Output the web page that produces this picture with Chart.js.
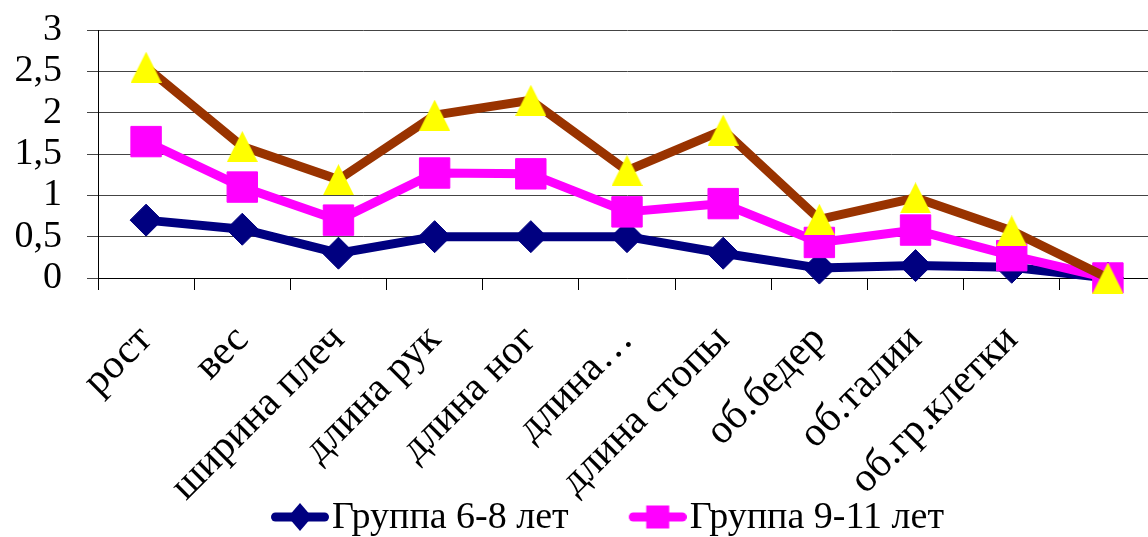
<!DOCTYPE html>
<html>
<head>
<meta charset="utf-8">
<script src="https://cdn.jsdelivr.net/npm/chart.js@4.4.1/dist/chart.umd.min.js"></script>
<style>
  html, body { margin: 0; padding: 0; overflow: hidden; background: #ffffff; }
  canvas { display: block; }
</style>
</head>
<body>
<canvas id="chart" width="1160" height="547"></canvas>
<script>
// Body measurements by group (differences, units on the y axis)
const categories = ['рост', 'вес', 'ширина плеч', 'длина рук', 'длина ног', 'длина…',
                    'длина стопы', 'об.бедер', 'об.талии', 'об.гр.клетки', ''];
const group6to8  = [0.70, 0.59, 0.30, 0.50, 0.50, 0.50, 0.30, 0.12, 0.15, 0.13, 0];
const group9to11 = [1.65, 1.10, 0.70, 1.27, 1.26, 0.80, 0.90, 0.43, 0.58, 0.27, 0];
const group3     = [2.55, 1.59, 1.19, 1.97, 2.15, 1.30, 1.79, 0.71, 0.97, 0.57, 0];
const seriesNames = ['Группа 6-8 лет', 'Группа 9-11 лет', 'Группа 3'];
const yMin = 0, yMax = 3, yStep = 0.5;

const FONT = '"Liberation Serif", "Times New Roman", serif';
const NAVY = '#000080', MAGENTA = '#FF00FF', BROWN = '#993300', YELLOW = '#FFFF00';

// Layout constants (pixels)
const CANVAS_H = 547, PLOT_TOP = 30, PLOT_BOTTOM = 278;
const PAD_LEFT = 9, Y_AXIS_RIGHT = 98;
const LEG_FONT = 38, LEG_PAD = 10;
const LEGEND_H = LEG_FONT + LEG_PAD + 10;

// Isosceles triangle marker (as wide as it is tall)
function triangleMarker(size, fill) {
  const c = document.createElement('canvas');
  c.width = size; c.height = size;
  const g = c.getContext('2d');
  g.fillStyle = fill;
  g.beginPath();
  g.moveTo(size / 2, 0);
  g.lineTo(size, size);
  g.lineTo(0, size);
  g.closePath();
  g.fill();
  return c;
}

// Legend symbol: a short thick line with the series marker in its middle
const LEG_B = 92;                 // box width reserved for the symbol
const LEG_W = LEG_B + 32;         // symbol canvas width
function legendSymbol(color, kind) {
  const c = document.createElement('canvas');
  c.width = LEG_W; c.height = 32;
  const g = c.getContext('2d');
  const x0 = LEG_B - 26, x1 = LEG_W, cy = 15;
  g.strokeStyle = color; g.fillStyle = color;
  g.lineWidth = 9; g.lineCap = 'round';
  g.beginPath(); g.moveTo(x0 + 4.5, cy); g.lineTo(x1 - 4.5, cy); g.stroke();
  const mx = (x0 + x1) / 2;
  g.beginPath();
  if (kind === 'diamond') {
    g.moveTo(mx, cy - 14); g.lineTo(mx + 12, cy); g.lineTo(mx, cy + 14); g.lineTo(mx - 12, cy);
    g.closePath(); g.fill();
  } else {
    g.fillRect(mx - 11.5, cy - 11.5, 23, 23);
  }
  return c;
}
const legendSymbols = [legendSymbol(NAVY, 'diamond'), legendSymbol(MAGENTA, 'square')];

new Chart(document.getElementById('chart'), {
  type: 'line',
  data: {
    labels: categories,
    datasets: [
      {
        label: seriesNames[0], data: group6to8, order: 3,
        borderColor: NAVY, backgroundColor: NAVY, borderWidth: 9,
        pointStyle: 'rectRot', pointRadius: 16, pointBorderWidth: 1,
        pointBackgroundColor: NAVY, pointBorderColor: NAVY, clip: false
      },
      {
        label: seriesNames[1], data: group9to11, order: 2,
        borderColor: MAGENTA, backgroundColor: MAGENTA, borderWidth: 9,
        pointStyle: 'rect', pointRadius: 21.5, pointBorderWidth: 1,
        pointBackgroundColor: MAGENTA, pointBorderColor: MAGENTA, clip: false
      },
      {
        label: seriesNames[2], data: group3, order: 1,
        borderColor: BROWN, backgroundColor: BROWN, borderWidth: 9,
        pointStyle: triangleMarker(31, YELLOW), pointRadius: 16, clip: false
      }
    ]
  },
  options: {
    responsive: false,
    animation: false,
    devicePixelRatio: 1,
    layout: {
      autoPadding: false,
      padding: { top: PLOT_TOP, left: PAD_LEFT, right: 4, bottom: 0 }
    },
    elements: { line: { tension: 0, borderJoinStyle: 'round', borderCapStyle: 'round' } },
    plugins: {
      tooltip: { enabled: false },
      legend: {
        position: 'bottom',
        labels: {
          font: { family: FONT, size: LEG_FONT },
          color: '#000',
          padding: LEG_PAD,
          usePointStyle: true,
          pointStyleWidth: LEG_B,
          sort: (a, b) => a.datasetIndex - b.datasetIndex,
          filter: (item) => item.datasetIndex < 2,
          generateLabels: (chart) => {
            const items = Chart.defaults.plugins.legend.labels.generateLabels(chart);
            items.forEach(it => {
              if (it.datasetIndex < 2) it.pointStyle = legendSymbols[it.datasetIndex];
            });
            return items;
          }
        }
      }
    },
    scales: {
      x: {
        offset: true,
        grid: {
          offset: true, drawOnChartArea: false, drawTicks: true,
          tickLength: 12, color: '#000', lineWidth: 1
        },
        border: { display: true, color: '#000', width: 1 },
        ticks: {
          autoSkip: false, maxRotation: 45, minRotation: 45,
          padding: 26, labelOffset: 0,
          color: '#000', font: { family: FONT, size: 41 }
        },
        afterFit: (scale) => {
          scale.height = CANVAS_H - LEGEND_H - PLOT_BOTTOM;
          scale.paddingLeft = 0; scale.paddingRight = 0;
          // long rotated labels run down beside the legend, so do not clip them to the axis box
          scale._computeLabelArea = () => undefined;
        }
      },
      y: {
        min: yMin, max: yMax,
        grid: { color: '#444', lineWidth: 1, tickLength: 11, drawTicks: true },
        border: { display: true, color: '#000', width: 1 },
        ticks: {
          stepSize: yStep, autoSkip: false, padding: 25, color: '#000',
          font: { family: FONT, size: 38 },
          callback: (v) => String(v).replace('.', ',')
        },
        afterFit: (scale) => {
          scale.width = Y_AXIS_RIGHT - PAD_LEFT;
          scale.paddingTop = 0; scale.paddingBottom = 0;
        }
      }
    }
  }
});
</script>
</body>
</html>
